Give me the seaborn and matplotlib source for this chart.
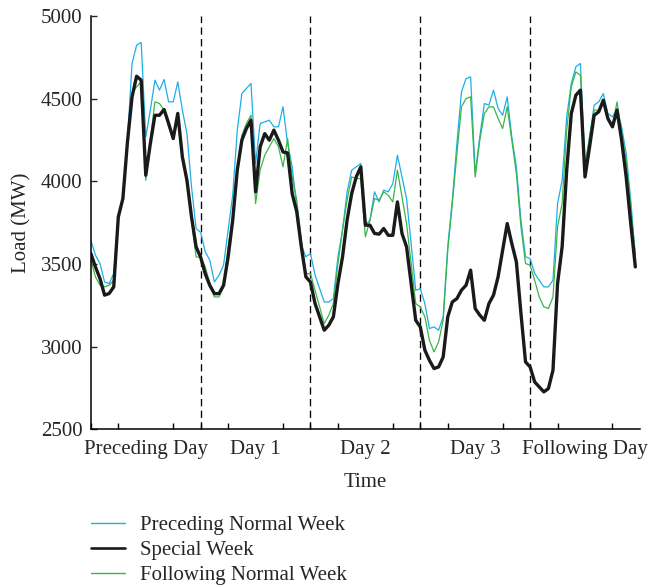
import numpy as np
import pandas as pd
import matplotlib
matplotlib.use("Agg")
import matplotlib.pyplot as plt
import seaborn as sns
from matplotlib.lines import Line2D

# ---- data (hourly load, MW) ----
day_labels = ["Preceding Day", "Day 1", "Day 2", "Day 3", "Following Day"]
series_names = ["Preceding Normal Week", "Special Week", "Following Normal Week"]

preceding_week = [
    3643, 3553, 3502, 3391, 3381, 3442, 3784, 3905, 4248, 4712, 4823, 4839,
    4268, 4430, 4611, 4551, 4615, 4480, 4480, 4601, 4430, 4288, 3966, 3714,
    3690, 3573, 3522, 3391, 3431, 3492, 3704, 3915, 4309, 4530, 4561, 4591,
    4107, 4349, 4359, 4369, 4329, 4329, 4450, 4228, 4087, 3845, 3613, 3543,
    3563, 3432, 3351, 3270, 3270, 3290, 3542, 3704, 3936, 4067, 4087, 4107,
    3734, 3764, 3936, 3875, 3946, 3936, 3986, 4157, 4026, 3895, 3623, 3340,
    3350, 3260, 3109, 3119, 3099, 3179, 3603, 3885, 4228, 4540, 4621, 4631,
    4046, 4268, 4470, 4460, 4551, 4440, 4399, 4510, 4268, 4087, 3764, 3543,
    3532, 3442, 3401, 3361, 3361, 3401, 3865, 4006, 4389, 4591, 4692, 4712,
    4087, 4268, 4460, 4480, 4530, 4409, 4389, 4440, 4329, 4167, 3885, 3543,
]

special_week = [
    3563, 3482, 3411, 3311, 3321, 3361, 3784, 3895, 4238, 4510, 4635, 4611,
    4036, 4228, 4399, 4399, 4434, 4349, 4258, 4410, 4147, 4006, 3784, 3603,
    3540, 3440, 3370, 3320, 3320, 3370, 3542, 3764, 4067, 4248, 4319, 4369,
    3936, 4208, 4288, 4248, 4309, 4248, 4177, 4171, 3925, 3815, 3603, 3421,
    3390, 3260, 3180, 3099, 3129, 3180, 3381, 3542, 3764, 3925, 4026, 4087,
    3734, 3734, 3684, 3680, 3714, 3673, 3673, 3875, 3684, 3603, 3381, 3159,
    3119, 2978, 2917, 2867, 2877, 2937, 3179, 3270, 3290, 3341, 3371, 3462,
    3230, 3190, 3159, 3260, 3311, 3421, 3583, 3744, 3623, 3512, 3200, 2907,
    2877, 2786, 2756, 2726, 2746, 2857, 3381, 3603, 4067, 4409, 4520, 4551,
    4026, 4208, 4399, 4420, 4490, 4379, 4329, 4430, 4248, 4026, 3744, 3482,
]

following_week = [
    3522, 3422, 3371, 3361, 3371, 3401, 3805, 3885, 4228, 4530, 4571, 4601,
    4006, 4248, 4480, 4470, 4430, 4329, 4268, 4399, 4127, 3986, 3764, 3542,
    3540, 3482, 3381, 3300, 3300, 3361, 3603, 3784, 4046, 4278, 4349, 4399,
    3865, 4067, 4157, 4208, 4258, 4208, 4087, 4258, 4026, 3885, 3643, 3442,
    3440, 3341, 3240, 3139, 3190, 3260, 3502, 3704, 3885, 4026, 4016, 4016,
    3663, 3764, 3895, 3885, 3936, 3915, 3875, 4067, 3905, 3744, 3502, 3260,
    3240, 3180, 3038, 2968, 3028, 3159, 3583, 3865, 4167, 4450, 4500, 4510,
    4026, 4248, 4409, 4450, 4450, 4379, 4319, 4450, 4248, 4046, 3724, 3502,
    3492, 3401, 3300, 3240, 3230, 3300, 3724, 3865, 4309, 4571, 4661, 4641,
    4097, 4268, 4430, 4430, 4490, 4369, 4339, 4480, 4288, 4127, 3845, 3553,
]

hours = np.arange(len(special_week))

colors = {"Preceding Normal Week": "#1eaee6",
          "Special Week": "#1a1a1a",
          "Following Normal Week": "#3bb54a"}
widths = {"Preceding Normal Week": 0.9,
          "Special Week": 2.4,
          "Following Normal Week": 0.9}
legend_widths = {"Preceding Normal Week": 1.0,
                 "Special Week": 1.9,
                 "Following Normal Week": 1.0}

df = pd.DataFrame({
    "hour": np.tile(hours, 3),
    "load": preceding_week + special_week + following_week,
    "series": np.repeat(series_names, len(hours)),
})

sns.set_style("ticks")
plt.rcParams["font.family"] = ["Liberation Serif", "DejaVu Serif"]
FS = 15
plt.rcParams["font.size"] = FS

fig = plt.figure(figsize=(6.49, 5.88), dpi=100)
ax = fig.add_axes([0.140, 0.270, 0.846, 0.703])

for name in ["Preceding Normal Week", "Following Normal Week", "Special Week"]:
    sub = df[df["series"] == name]
    sns.lineplot(data=sub, x="hour", y="load", color=colors[name],
                 linewidth=widths[name], ax=ax, legend=False)

for b in [24, 48, 72, 96]:
    ax.axvline(b, color="black", linestyle=(0, (5.5, 3.3)), linewidth=0.95, zorder=0)

ax.set_xlim(0, 120)
ax.set_ylim(2500, 5000)
ax.set_yticks([2500, 3000, 3500, 4000, 4500, 5000])
ax.set_xticks([12, 36, 60, 84, 108])
ax.set_xticklabels(day_labels)
ax.set_xticks(np.arange(0, 120, 6), minor=True)
ax.tick_params(axis="x", which="major", length=0, pad=8, labelsize=FS)
ax.tick_params(axis="x", which="minor", direction="in", length=4, width=1, color="black")
ax.tick_params(axis="y", direction="in", length=4, width=1, labelsize=FS, pad=6)
ax.set_xlabel("Time", fontsize=FS, labelpad=10)
ax.set_ylabel("Load (MW)", fontsize=FS, labelpad=7)
sns.despine(ax=ax)
for s in ["left", "bottom"]:
    ax.spines[s].set_color("black")
    ax.spines[s].set_linewidth(1.1)

handles = [Line2D([], [], color=colors[n], linewidth=legend_widths[n]) for n in series_names]
fig.legend(handles, series_names, loc="upper left",
           bbox_to_anchor=(0.1275, 0.137), frameon=False,
           fontsize=FS, handlelength=1.65, handletextpad=0.68,
           labelspacing=0.25, borderaxespad=0)

fig.savefig("out.png", dpi=100)
